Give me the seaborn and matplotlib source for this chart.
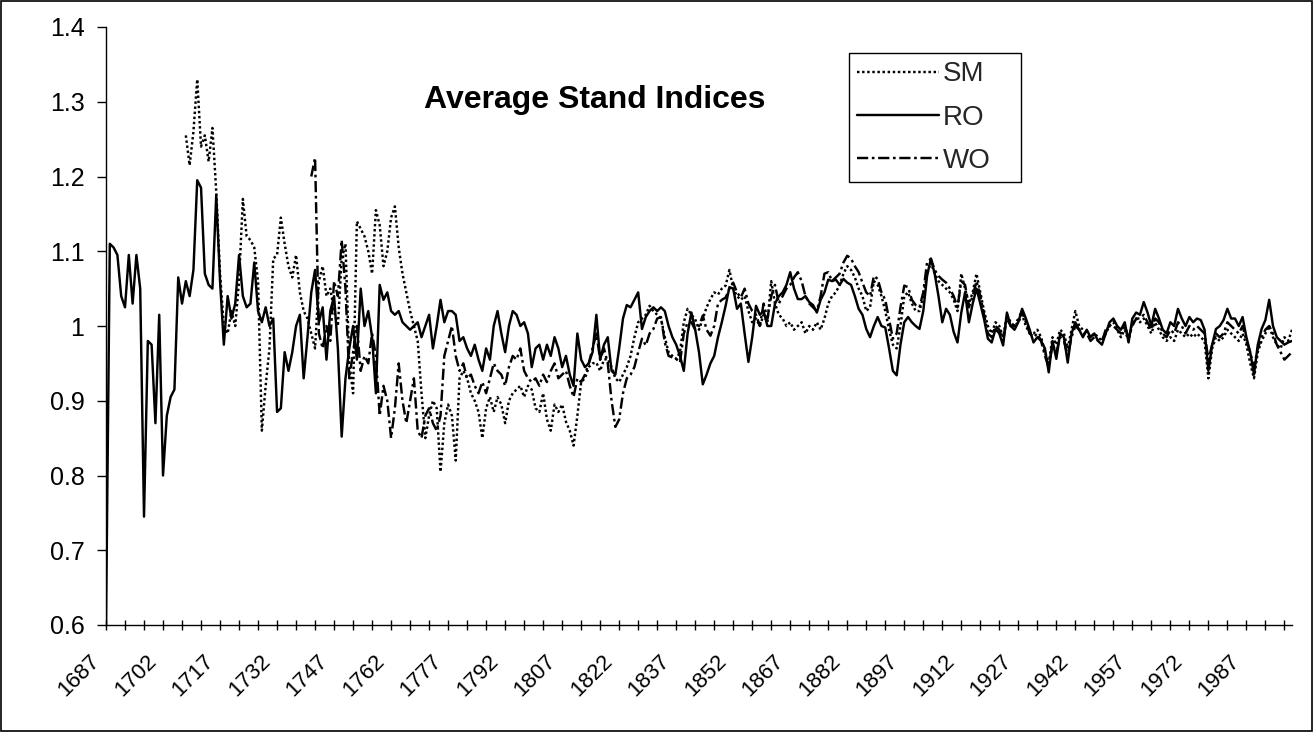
import numpy as np
import pandas as pd
import matplotlib
matplotlib.use("Agg")
import matplotlib.pyplot as plt
import seaborn as sns
from matplotlib.lines import Line2D
from matplotlib.patches import Rectangle
from matplotlib.ticker import FixedLocator, FuncFormatter
from matplotlib.transforms import ScaledTranslation

# ---------------- data ----------------
series_names = ["SM", "RO", "WO"]

ro_start = 1687
ro_values = [
    0.60, 1.11, 1.105, 1.095, 1.04, 1.025, 1.095, 1.03, 1.095, 1.05,     # 1687-1696
    0.745, 0.98, 0.975, 0.87, 1.015, 0.80, 0.88, 0.905, 0.915, 1.065,    # 1697-1706
    1.03, 1.06, 1.04, 1.075, 1.195, 1.185, 1.07, 1.055, 1.05, 1.175,     # 1707-1716
    1.06, 0.975, 1.04, 1.01, 1.03, 1.095, 1.04, 1.025, 1.03, 1.085,      # 1717-1726
    1.02, 1.005, 1.025, 1.0, 1.01, 0.885, 0.89, 0.965, 0.94, 0.965,      # 1727-1736
    1.0, 1.015, 0.93, 0.985, 1.045, 1.075, 1.005, 1.025, 0.955, 1.02,    # 1737-1746
    1.04, 0.97, 0.852, 0.93, 0.97, 1.0, 0.955, 1.05, 1.0, 1.02,          # 1747-1756
    0.985, 0.91, 1.055, 1.035, 1.045, 1.02, 1.015, 1.02, 1.005, 1.0,     # 1757-1766
    0.995, 1.0, 1.005, 0.985, 1.0, 1.015, 0.97, 1.0, 1.035, 1.005,       # 1767-1776
    1.02, 1.02, 1.015, 0.98, 0.985, 0.97, 0.96, 0.975, 0.955, 0.94,      # 1777-1786
    0.97, 0.955, 1.0, 1.02, 0.99, 0.965, 1.0, 1.02, 1.015, 1.0,          # 1787-1796
    1.005, 0.99, 0.945, 0.97, 0.975, 0.955, 0.975, 0.96, 0.985, 0.97,    # 1797-1806
    0.945, 0.96, 0.935, 0.92, 0.99, 0.955, 0.945, 0.95, 0.965, 1.015,    # 1807-1816
    0.955, 0.975, 0.985, 0.94, 0.935, 0.97, 1.01, 1.028, 1.025, 1.035,   # 1817-1826
    1.045, 0.996, 1.012, 1.02, 1.025, 1.02, 1.025, 1.02, 1.0, 0.985,     # 1827-1836
    0.975, 0.96, 0.94, 0.99, 1.018, 0.995, 0.965, 0.922, 0.935, 0.95,    # 1837-1846
    0.96, 0.985, 1.005, 1.027, 1.052, 1.05, 1.023, 1.03, 0.99, 0.952,    # 1847-1856
    0.985, 1.027, 1.015, 1.02, 1.0, 1.0, 1.03, 1.04, 1.045, 1.055,       # 1857-1866
    1.072, 1.05, 1.036, 1.036, 1.04, 1.032, 1.028, 1.018, 1.035, 1.045,  # 1867-1876
    1.062, 1.06, 1.062, 1.055, 1.063, 1.058, 1.055, 1.04, 1.023, 1.015,  # 1877-1886
    0.996, 0.985, 1.0, 1.012, 1.0, 0.998, 0.97, 0.94, 0.934, 0.975,      # 1887-1896
    1.005, 1.012, 1.005, 1.0, 0.996, 1.02, 1.067, 1.09, 1.07, 1.04,      # 1897-1906
    1.005, 1.023, 1.015, 0.992, 0.978, 1.018, 1.045, 1.005, 1.03, 1.05,  # 1907-1916
    1.03, 1.009, 0.983, 0.978, 0.996, 0.99, 0.974, 1.018, 1.0, 0.995,    # 1917-1926
    1.005, 1.023, 1.01, 0.995, 0.978, 0.985, 0.98, 0.97, 0.938, 0.98,    # 1927-1936
    0.956, 0.99, 0.985, 0.951, 0.99, 1.005, 0.995, 0.985, 0.995, 0.985,  # 1937-1946
    0.99, 0.98, 0.975, 0.99, 1.005, 1.01, 1.0, 0.995, 1.005, 0.978,      # 1947-1956
    1.01, 1.018, 1.015, 1.032, 1.018, 1.0, 1.023, 1.01, 0.995, 0.99,     # 1957-1966
    1.005, 1.0, 1.023, 1.01, 1.0, 1.012, 1.005, 1.01, 1.008, 0.995,      # 1967-1976
    0.94, 0.975, 0.996, 1.0, 1.008, 1.023, 1.01, 1.01, 1.0, 1.012,       # 1977-1986
    0.985, 0.965, 0.935, 0.975, 0.996, 1.008, 1.035, 1.0, 0.985, 0.98,   # 1987-1996
    0.975, 0.978, 0.98,                                                  # 1997-1999
]

sm_start = 1708
sm_values = [
    1.255, 1.215, 1.26, 1.33, 1.24, 1.255, 1.22, 1.265, 1.18, 1.07,      # 1708-1717
    1.0, 0.99, 1.02, 1.0, 1.06, 1.17, 1.12, 1.115, 1.105, 1.06,          # 1718-1727
    0.86, 0.92, 0.97, 1.09, 1.095, 1.145, 1.11, 1.08, 1.065, 1.095,      # 1728-1737
    1.045, 1.02, 1.01, 0.99, 0.97, 1.06, 1.08, 1.04, 1.05, 1.02,         # 1738-1747
    1.0, 1.09, 1.11, 0.95, 0.91, 1.14, 1.13, 1.12, 1.1, 1.07,            # 1748-1757
    1.155, 1.135, 1.08, 1.1, 1.145, 1.16, 1.105, 1.07, 1.045, 1.02,      # 1758-1767
    1.0, 0.98, 0.91, 0.85, 0.88, 0.9, 0.89, 0.805, 0.87, 0.895,          # 1768-1777
    0.88, 0.82, 0.93, 0.94, 0.93, 0.91, 0.9, 0.885, 0.85, 0.89,          # 1778-1787
    0.905, 0.885, 0.905, 0.895, 0.87, 0.9, 0.91, 0.915, 0.92, 0.905,     # 1788-1797
    0.92, 0.915, 0.89, 0.885, 0.91, 0.875, 0.86, 0.895, 0.885, 0.895,    # 1798-1807
    0.872, 0.86, 0.84, 0.88, 0.925, 0.93, 0.945, 0.95, 0.951, 0.94,      # 1808-1817
    0.955, 0.956, 0.945, 0.93, 0.925, 0.935, 0.945, 0.96, 0.985, 1.005,  # 1818-1827
    1.01, 1.015, 1.027, 1.02, 1.015, 1.01, 0.985, 0.965, 0.96, 0.956,    # 1828-1837
    0.965, 1.005, 1.023, 1.015, 1.009, 0.995, 1.01, 1.025, 1.036, 1.045, # 1838-1847
    1.042, 1.05, 1.054, 1.075, 1.05, 1.04, 1.035, 1.04, 1.02, 1.005,     # 1848-1857
    1.01, 1.0, 1.015, 1.005, 1.06, 1.03, 1.015, 1.01, 1.0, 1.005,        # 1858-1867
    0.995, 1.0, 1.005, 0.99, 1.0, 0.995, 1.005, 0.995, 1.01, 1.03,       # 1868-1877
    1.04, 1.045, 1.055, 1.07, 1.08, 1.075, 1.065, 1.05, 1.04, 1.02,      # 1878-1887
    1.025, 1.06, 1.055, 1.04, 1.02, 0.995, 0.975, 0.97, 1.0, 1.04,       # 1888-1897
    1.045, 1.03, 1.02, 1.02, 1.04, 1.07, 1.085, 1.07, 1.06, 1.055,       # 1898-1907
    1.05, 1.045, 1.035, 1.02, 1.07, 1.05, 1.03, 1.045, 1.07, 1.045,      # 1908-1917
    1.02, 1.0, 0.99, 1.005, 1.0, 0.985, 1.015, 1.005, 1.0, 1.005,        # 1918-1927
    1.015, 1.0, 0.99, 0.99, 0.995, 0.985, 0.965, 0.95, 0.985, 0.975,     # 1928-1937
    0.995, 0.99, 0.97, 0.995, 1.02, 1.0, 0.995, 0.99, 0.985, 0.99,       # 1938-1947
    0.985, 0.98, 0.99, 1.0, 1.005, 0.995, 0.985, 0.995, 0.98, 1.005,     # 1948-1957
    1.01, 1.005, 1.01, 1.0, 0.99, 1.005, 0.995, 0.985, 0.98, 0.985,      # 1958-1967
    0.98, 0.995, 0.99, 0.985, 0.99, 0.985, 0.99, 0.985, 0.98, 0.93,      # 1968-1977
    0.97, 0.985, 0.98, 0.985, 0.995, 0.99, 0.985, 0.98, 0.99, 0.975,     # 1978-1987
    0.95, 0.93, 0.965, 0.98, 0.99, 1.0, 0.985, 0.975, 0.97, 0.985,       # 1988-1997
    0.98, 0.995,                                                         # 1998-1999
]

wo_start = 1741
wo_values = [
    1.20, 1.225, 0.99, 0.97, 1.0, 0.98, 1.06, 1.04, 1.115, 1.05,         # 1741-1750
    0.93, 0.965, 1.0, 0.94, 0.96, 0.95, 0.99, 0.96, 0.88, 0.92,          # 1751-1760
    0.9, 0.85, 0.89, 0.95, 0.9, 0.87, 0.9, 0.93, 0.86, 0.85,             # 1761-1770
    0.88, 0.89, 0.87, 0.86, 0.88, 0.96, 0.98, 1.0, 0.96, 0.94,           # 1771-1780
    0.95, 0.93, 0.935, 0.92, 0.91, 0.925, 0.91, 0.93, 0.95, 0.94,        # 1781-1790
    0.935, 0.92, 0.945, 0.96, 0.955, 0.97, 0.94, 0.93, 0.925, 0.93,      # 1791-1800
    0.92, 0.935, 0.925, 0.94, 0.95, 0.93, 0.935, 0.94, 0.92, 0.905,      # 1801-1810
    0.93, 0.925, 0.935, 0.95, 0.97, 0.99, 0.955, 0.97, 0.95, 0.9,        # 1811-1820
    0.865, 0.875, 0.91, 0.93, 0.935, 0.945, 0.965, 0.983, 0.974, 0.99,   # 1821-1830
    0.996, 1.01, 1.012, 0.978, 0.96, 0.958, 0.956, 0.951, 0.99, 1.005,   # 1831-1840
    1.005, 0.995, 1.0, 1.014, 0.995, 0.987, 1.0, 1.03, 1.035, 1.038,     # 1841-1850
    1.05, 1.058, 1.045, 1.038, 1.05, 1.03, 1.02, 1.015, 1.0, 1.03,       # 1851-1860
    1.01, 1.04, 1.055, 1.03, 1.04, 1.05, 1.055, 1.065, 1.072, 1.06,      # 1861-1870
    1.04, 1.03, 1.025, 1.02, 1.04, 1.07, 1.072, 1.06, 1.065, 1.07,       # 1871-1880
    1.085, 1.094, 1.09, 1.08, 1.072, 1.058, 1.045, 1.04, 1.067, 1.063,   # 1881-1890
    1.045, 1.035, 1.009, 0.983, 0.99, 1.025, 1.054, 1.052, 1.035, 1.028, # 1891-1900
    1.025, 1.045, 1.085, 1.09, 1.075, 1.067, 1.062, 1.058, 1.05, 1.04,   # 1901-1910
    1.025, 1.06, 1.055, 1.025, 1.04, 1.06, 1.04, 1.015, 0.99, 0.985,     # 1911-1920
    1.0, 0.995, 0.98, 1.01, 1.0, 1.0, 1.01, 1.02, 1.005, 0.99,           # 1921-1930
    0.985, 0.99, 0.98, 0.96, 0.945, 0.975, 0.965, 0.985, 0.98, 0.96,     # 1931-1940
    0.985, 1.0, 0.995, 0.99, 0.99, 0.98, 0.985, 0.98, 0.98, 0.995,       # 1941-1950
    1.0, 1.0, 0.995, 0.99, 1.0, 0.985, 1.0, 1.01, 1.01, 1.015,           # 1951-1960
    1.005, 0.995, 1.01, 1.005, 0.99, 0.985, 0.995, 0.99, 1.005, 1.0,     # 1961-1970
    0.99, 1.0, 0.995, 1.0, 0.995, 0.99, 0.955, 0.975, 0.99, 0.985,       # 1971-1980
    0.99, 1.005, 1.0, 0.995, 0.99, 1.0, 0.98, 0.965, 0.945, 0.97,        # 1981-1990
    0.985, 0.995, 1.0, 0.99, 0.975, 0.965, 0.955, 0.96, 0.965,           # 1991-1999
]

first_year = 1687
last_year = 1999
label_years = list(range(1687, 1988, 15))
minor_tick_years = list(range(1687, 2000, 5))
y_ticks = [0.6, 0.7, 0.8, 0.9, 1.0, 1.1, 1.2, 1.3, 1.4]
title_text = "Average Stand Indices"

# ---------------- long table ----------------
frames = []
for name, start, vals in [("SM", sm_start, sm_values),
                          ("RO", ro_start, ro_values),
                          ("WO", wo_start, wo_values)]:
    frames.append(pd.DataFrame({"Year": np.arange(start, start + len(vals)),
                                "Index": vals, "Series": name}))
df = pd.concat(frames, ignore_index=True)

# ---------------- style ----------------
sns.set_theme(style="white")
plt.rcParams["font.family"] = ["Liberation Sans", "DejaVu Sans"]

fig = plt.figure(figsize=(13.14, 7.32), dpi=100)
ax = fig.add_axes([106 / 1314, 1 - 625 / 732, (1292 - 106) / 1314, (625 - 27) / 732])

lw = 1.75
dash_map = {"SM": (1.0, 1.1), "RO": "", "WO": (4.6, 1.5, 1.1, 1.5)}
sns.lineplot(data=df, x="Year", y="Index", style="Series", style_order=series_names,
             dashes=dash_map, color="black", linewidth=lw, estimator=None,
             sort=True, legend=False, ax=ax)

ax.set_xlim(first_year, last_year)
ax.set_ylim(0.6, 1.4)
ax.set_xlabel("")
ax.set_ylabel("")

for side in ["top", "right"]:
    ax.spines[side].set_visible(False)
for side in ["left", "bottom"]:
    ax.spines[side].set_color("black")
    ax.spines[side].set_linewidth(1.0)

ax.yaxis.set_major_locator(FixedLocator(y_ticks))
ax.yaxis.set_major_formatter(FuncFormatter(lambda v, p: f"{v:g}"))
ax.tick_params(axis="y", which="major", left=True, direction="out", length=6.5,
               width=1, color="black", labelsize=18, pad=9, labelcolor="black")

ax.xaxis.set_major_locator(FixedLocator(label_years))
ax.xaxis.set_minor_locator(FixedLocator([y for y in minor_tick_years if y not in label_years]))
ax.set_xticklabels([str(y) for y in label_years], rotation=45, ha="right",
                   va="top", rotation_mode="anchor")
ax.tick_params(axis="x", which="both", bottom=True, direction="inout", length=7,
               width=1, color="black")
ax.tick_params(axis="x", which="major", labelsize=16, pad=15, labelcolor="black")
offset = ScaledTranslation(-17 / 100, 0, fig.dpi_scale_trans)
for lab in ax.get_xticklabels():
    lab.set_transform(lab.get_transform() + offset)

ax.grid(False)

# title inside the plot area
fig.text(595 / 1314, 1 - 100 / 732, title_text, ha="center", va="center",
         fontsize=23, fontweight="bold", color="black")

# legend
handles = [
    Line2D([], [], color="black", lw=lw, dashes=dash_map["SM"]),
    Line2D([], [], color="black", lw=lw),
    Line2D([], [], color="black", lw=lw, dashes=dash_map["WO"]),
]
leg_x0, leg_y0, leg_x1 = 849, 53, 1021
leg = ax.legend(handles, series_names, loc="upper left",
                bbox_to_anchor=(leg_x0 / 1314, 1 - leg_y0 / 732, (leg_x1 - leg_x0) / 1314, 0),
                bbox_transform=fig.transFigure, mode="expand",
                fontsize=20, handlelength=2.95, handletextpad=0.12, labelspacing=0.62,
                borderpad=0.3, borderaxespad=0, frameon=True, fancybox=False,
                framealpha=1, edgecolor="black")
leg.get_frame().set_linewidth(1.0)

# outer chart border
fig.patches.append(Rectangle((0.0005, 0.001), 0.998, 0.998, transform=fig.transFigure,
                             fill=False, edgecolor="black", linewidth=1.2))

fig.savefig("out.png", dpi=100)
